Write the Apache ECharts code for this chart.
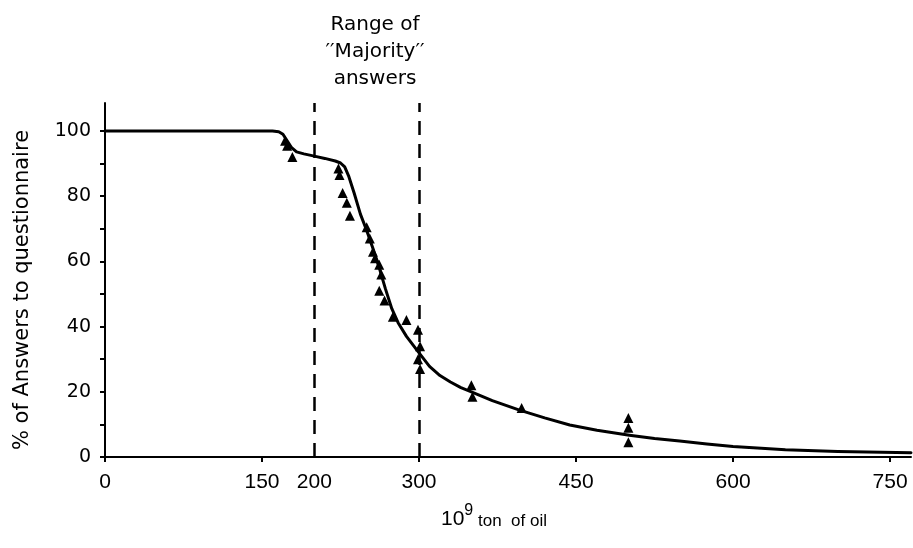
<!DOCTYPE html>
<html>
<head>
<meta charset="utf-8">
<script src="https://cdn.jsdelivr.net/npm/echarts@6/dist/echarts.min.js"></script>
<style>html,body{margin:0;padding:0;background:#fff}#c{width:913px;height:548px}</style>
</head>
<body>
<div id="c"></div>
<script>
// Fitted curve (x: 10^9 ton of oil, y: % of answers)
const curveX = [0, 160, 166, 170, 174, 178, 183, 190, 200, 210, 220, 225, 229, 233, 238, 244, 250, 256, 262, 268, 274, 280, 288, 298, 310, 320, 330, 340, 350, 370, 396, 420, 444, 470, 501, 525, 549, 575, 600, 650, 700, 770];
const curveY = [100, 100, 99.8, 99, 97, 95, 93.6, 93, 92.3, 91.6, 90.8, 90.2, 89, 86, 81, 74.5, 69.5, 64, 58, 51.5, 45.5, 41.2, 37, 32.8, 27.8, 25, 23, 21.3, 20, 17.3, 14.4, 12, 9.8, 8.2, 6.7, 5.7, 4.9, 4, 3.2, 2.2, 1.7, 1.3];
// Questionnaire answers (triangles)
const answerX = [172, 174, 179, 223, 224, 227, 231, 234, 250, 253, 256, 258, 262, 264, 262, 267, 275, 288, 299, 301, 299, 301, 350, 351, 398, 500, 500, 500];
const answerY = [97, 95.5, 92, 88.5, 86.5, 81, 78, 74, 70.5, 67, 63, 61, 59, 56, 51, 48, 43, 42, 39, 34, 30, 27, 22, 18.5, 15, 12, 9, 4.5];
// Range of "Majority" answers
const majorityRange = [200, 300];
// Tick labels
const xLabels = [0, 150, 200, 300, 450, 600, 750];
const xTicks = [0, 150, 300, 450, 600, 750];
const yLabels = [0, 20, 40, 60, 80, 100];
const yTicks = [0, 10, 20, 30, 40, 50, 60, 70, 80, 90, 100];

const FONT = '"DejaVu Sans", "Liberation Sans", Arial, sans-serif';
const NARROW = '"Liberation Sans", Arial, sans-serif';
const chart = echarts.init(document.getElementById('c'));
chart.setOption({
  animation: false,
  backgroundColor: '#fff',
  title: {
    text: 'Range of\n\u2032\u2032Majority\u2032\u2032\nanswers',
    left: 370, top: 6, textAlign: 'center',
    textStyle: { fontFamily: FONT, fontSize: 20, fontWeight: 'normal', color: '#000', lineHeight: 27, align: 'center' }
  },
  grid: { left: 105, right: 2, top: 103, bottom: 91, containLabel: false },
  xAxis: {
    type: 'value', min: 0, max: 770,
    axisLine: { lineStyle: { color: '#000', width: 2 } },
    axisTick: { show: true, length: 5, inside: false, customValues: xTicks, lineStyle: { color: '#000', width: 2 } },
    axisLabel: { customValues: xLabels, margin: 15, color: '#000', fontFamily: NARROW, fontSize: 21 },
    splitLine: { show: false },
    name: '{a|10}{b|9}{c| ton  of oil}',
    nameLocation: 'middle', nameGap: 46,
    nameTextStyle: {
      padding: [0, 28, 0, 0],
      rich: {
        a: { fontFamily: NARROW, fontSize: 21, color: '#000', verticalAlign: 'bottom' },
        b: { fontFamily: NARROW, fontSize: 16, color: '#000', verticalAlign: 'top', padding: [0, 0, 11, 0] },
        c: { fontFamily: NARROW, fontSize: 17, color: '#000', verticalAlign: 'bottom' }
      }
    }
  },
  yAxis: {
    type: 'value', min: 0, max: 108.6,
    axisLine: { show: true, lineStyle: { color: '#000', width: 2 } },
    axisTick: { show: true, length: 5, inside: false, customValues: yTicks, lineStyle: { color: '#000', width: 2 } },
    axisLabel: { customValues: yLabels, margin: 14, color: '#000', fontFamily: FONT, fontSize: 19 },
    splitLine: { show: false },
    name: '% of Answers to questionnaire',
    nameLocation: 'middle', nameGap: 72, nameRotate: 90,
    nameTextStyle: { fontFamily: FONT, fontSize: 21, color: '#000', padding: [0, 20, 0, 0] }
  },
  series: [
    {
      type: 'line',
      data: curveX.map((x, i) => [x, curveY[i]]),
      showSymbol: false, smooth: false,
      lineStyle: { color: '#000', width: 3, join: 'round', cap: 'round' },
      markLine: {
        silent: true, symbol: 'none', label: { show: false },
        lineStyle: { color: '#000', width: 2.5, type: [14, 9] },
        data: majorityRange.map(v => ({ xAxis: v }))
      },
      z: 2
    },
    {
      type: 'scatter',
      data: answerX.map((x, i) => [x, answerY[i]]),
      symbol: 'triangle', symbolSize: 10,
      itemStyle: { color: '#000', opacity: 1 },
      z: 3
    }
  ]
});
</script>
</body>
</html>
